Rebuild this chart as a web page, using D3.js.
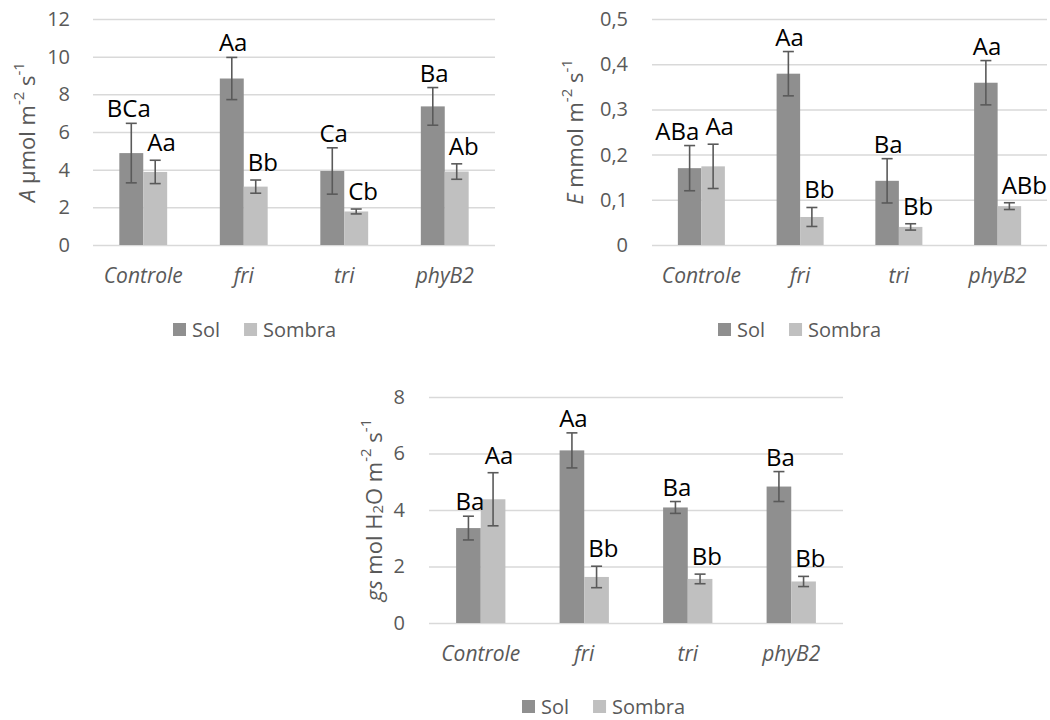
<!DOCTYPE html>
<html>
<head>
<meta charset="utf-8">
<script src="https://cdn.jsdelivr.net/npm/d3@7"></script>
<style>
  html, body { margin: 0; padding: 0; background: #fff; }
  svg { display: block; font-family: "Open Sans", "Noto Sans", sans-serif; }
</style>
</head>
<body>
<svg id="fig" width="1050" height="720"></svg>
<script>
// Genotypes and light treatments
const categories = ["Controle", "fri", "tri", "phyB2"];
const seriesNames = ["Sol", "Sombra"];

// Net photosynthesis A (µmol m-2 s-1)
const aSol = [4.88, 8.84, 3.93, 7.36];
const aSolErr = [1.58, 1.12, 1.23, 1.0];
const aSombra = [3.88, 3.10, 1.78, 3.90];
const aSombraErr = [0.62, 0.35, 0.13, 0.41];
const aSolLabels = ["BCa", "Aa", "Ca", "Ba"];
const aSombraLabels = ["Aa", "Bb", "Cb", "Ab"];
const aTicks = [0, 2, 4, 6, 8, 10, 12];

// Transpiration E (mmol m-2 s-1)
const eSol = [0.170, 0.379, 0.142, 0.359];
const eSolErr = [0.050, 0.049, 0.049, 0.049];
const eSombra = [0.174, 0.062, 0.040, 0.086];
const eSombraErr = [0.049, 0.021, 0.007, 0.0075];
const eSolLabels = ["ABa", "Aa", "Ba", "Aa"];
const eSombraLabels = ["Aa", "Bb", "Bb", "ABb"];
const eTicks = [0, 0.1, 0.2, 0.3, 0.4, 0.5];

// Stomatal conductance gs (mol H2O m-2 s-1)
const gsSol = [3.36, 6.11, 4.09, 4.83];
const gsSolErr = [0.42, 0.62, 0.21, 0.53];
const gsSombra = [4.38, 1.63, 1.56, 1.47];
const gsSombraErr = [0.94, 0.38, 0.17, 0.18];
const gsSolLabels = ["Ba", "Aa", "Ba", "Ba"];
const gsSombraLabels = ["Aa", "Bb", "Bb", "Bb"];
const gsTicks = [0, 2, 4, 6, 8];

const colors = { Sol: "#8f8f8f", Sombra: "#c0c0c0" };
const textGrey = "#595959";
const gridGrey = "#d9d9d9";

const ptBR = d3.formatLocale({ decimal: ",", thousands: ".", grouping: [3], currency: ["R$", ""] });
const fmtInt = d3.format("d");
const fmtDec = v => v === 0 ? "0" : ptBR.format(".1f")(v);

const svg = d3.select("#fig");

function drawPanel(p) {
  const g = svg.append("g");
  const x = d3.scaleBand().domain(categories).range([p.left, p.right]);
  const barW = x.bandwidth() / 4.2;
  const xs = d3.scaleBand().domain(seriesNames).range([-barW, barW]);
  const y = d3.scaleLinear().domain([0, p.ticks[p.ticks.length - 1]]).range([p.bottom, p.top]);

  // gridlines + tick labels
  const yAxis = d3.axisLeft(y).tickValues(p.ticks).tickFormat(p.fmt)
    .tickSize(-(p.right - p.left)).tickPadding(p.left - p.tickRight);
  const ax = g.append("g").attr("transform", `translate(${p.left},0)`).call(yAxis);
  ax.select(".domain").remove();
  ax.selectAll(".tick line").attr("stroke", gridGrey).attr("stroke-width", 1.5);
  ax.selectAll(".tick text").attr("fill", textGrey).attr("font-size", 20)
    .attr("font-family", '"Open Sans", sans-serif');

  // category labels
  const xAxis = d3.axisBottom(x).tickSize(0).tickPadding(0);
  const cx = g.append("g").attr("transform", `translate(0,${p.bottom})`).call(xAxis);
  cx.select(".domain").remove();
  cx.selectAll(".tick text").attr("fill", textGrey).attr("font-size", 21)
    .attr("font-style", "italic").attr("font-family", '"Open Sans", sans-serif')
    .attr("dy", null).attr("y", 38).attr("dominant-baseline", "alphabetic");

  const rows = seriesNames.map(s => categories.map((c, i) => ({
    series: s, cat: c, value: p.values[s][i], err: p.errors[s][i], label: p.labels[s][i]
  })));

  // bars
  rows.forEach(r => {
    g.append("g").selectAll("rect").data(r).join("rect")
      .attr("x", d => x(d.cat) + x.bandwidth() / 2 + xs(d.series))
      .attr("width", xs.bandwidth())
      .attr("y", d => y(d.value))
      .attr("height", d => y(0) - y(d.value))
      .attr("fill", d => colors[d.series]);
  });

  // error bars
  const eb = g.append("g").attr("stroke", "#5a5a5a").attr("stroke-width", 1.6).attr("fill", "none");
  rows.flat().forEach(d => {
    const cxp = x(d.cat) + x.bandwidth() / 2 + xs(d.series) + xs.bandwidth() / 2;
    const y1 = y(d.value + d.err), y2 = y(d.value - d.err);
    eb.append("line").attr("x1", cxp).attr("x2", cxp).attr("y1", y1).attr("y2", y2);
    eb.append("line").attr("x1", cxp - 5.5).attr("x2", cxp + 5.5).attr("y1", y1).attr("y2", y1);
    eb.append("line").attr("x1", cxp - 5.5).attr("x2", cxp + 5.5).attr("y1", y2).attr("y2", y2);
  });

  // significance letters
  const lg = g.append("g").attr("font-size", 24).attr("fill", "#000");
  categories.forEach((c, i) => {
    const sun = rows[0][i], shade = rows[1][i];
    const sunX = x(c) + x.bandwidth() / 2 + xs("Sol");
    const shadeX = x(c) + x.bandwidth() / 2 + xs("Sombra");
    const shadeBase = y(shade.value + shade.err) - 9;
    const sunBase = y(sun.value + sun.err) - 6;
    lg.append("text").attr("x", shadeX + 4).attr("y", shadeBase).text(shade.label);
    const tSun = lg.append("text").attr("text-anchor", "middle").attr("y", sunBase).text(sun.label);
    const wSun = tSun.node().getComputedTextLength();
    let cxSun = sunX + xs.bandwidth() / 2 + 5;
    if (Math.abs(sunBase - shadeBase) < 26) {
      cxSun = Math.min(cxSun, shadeX + 4 - 6 - wSun / 2);
    } else if (cxSun + wSun / 2 > shadeX + 4) {
      cxSun = (cxSun + shadeX - wSun / 2) / 2;
    }
    tSun.attr("x", cxSun);
  });

  // axis title
  const t = g.append("text")
    .attr("transform", `translate(${p.titleX},${(p.top + p.bottom) / 2}) rotate(-90)`)
    .attr("text-anchor", "middle").attr("dominant-baseline", "central")
    .attr("fill", textGrey).attr("font-size", 22);
  p.title(t);

  // legend
  const leg = g.append("g").attr("transform", `translate(${p.legendX},${p.legendY})`);
  let lx = 0;
  seriesNames.forEach(s => {
    leg.append("rect").attr("x", lx).attr("y", 0).attr("width", 13).attr("height", 13).attr("fill", colors[s]);
    const tx = leg.append("text").attr("x", lx + 19).attr("y", 14).attr("fill", textGrey)
      .attr("font-size", 20).text(s);
    lx += 19 + tx.node().getComputedTextLength() + 24;
  });
}

function sup(t, s) {
  t.append("tspan").attr("font-size", 15).attr("baseline-shift", "55%").text(s);
}

drawPanel({
  values: { Sol: aSol, Sombra: aSombra },
  errors: { Sol: aSolErr, Sombra: aSombraErr },
  labels: { Sol: aSolLabels, Sombra: aSombraLabels },
  ticks: aTicks, fmt: fmtInt,
  left: 93, right: 495, top: 19, bottom: 245, tickRight: 70, titleX: 26,
  legendX: 173, legendY: 323,
  title: t => {
    t.append("tspan").attr("font-style", "italic").text("A");
    t.append("tspan").text(" µmol m");
    sup(t, "-2");
    t.append("tspan").text(" s");
    sup(t, "-1");
  }
});

drawPanel({
  values: { Sol: eSol, Sombra: eSombra },
  errors: { Sol: eSolErr, Sombra: eSombraErr },
  labels: { Sol: eSolLabels, Sombra: eSombraLabels },
  ticks: eTicks, fmt: fmtDec,
  left: 652, right: 1047, top: 19, bottom: 245, tickRight: 628, titleX: 574,
  legendX: 718, legendY: 323,
  title: t => {
    t.append("tspan").attr("font-style", "italic").text("E");
    t.append("tspan").text(" mmol m");
    sup(t, "-2");
    t.append("tspan").text(" s");
    sup(t, "-1");
  }
});

drawPanel({
  values: { Sol: gsSol, Sombra: gsSombra },
  errors: { Sol: gsSolErr, Sombra: gsSombraErr },
  labels: { Sol: gsSolLabels, Sombra: gsSombraLabels },
  ticks: gsTicks, fmt: fmtInt,
  left: 429, right: 843, top: 397, bottom: 623, tickRight: 405, titleX: 373,
  legendX: 522, legendY: 700,
  title: t => {
    t.append("tspan").attr("font-style", "italic").text("gs");
    t.append("tspan").text(" mol H");
    t.append("tspan").attr("font-size", 15).attr("baseline-shift", "-25%").text("2");
    t.append("tspan").text("O m");
    sup(t, "-2");
    t.append("tspan").text(" s");
    sup(t, "-1");
  }
});
</script>
</body>
</html>
